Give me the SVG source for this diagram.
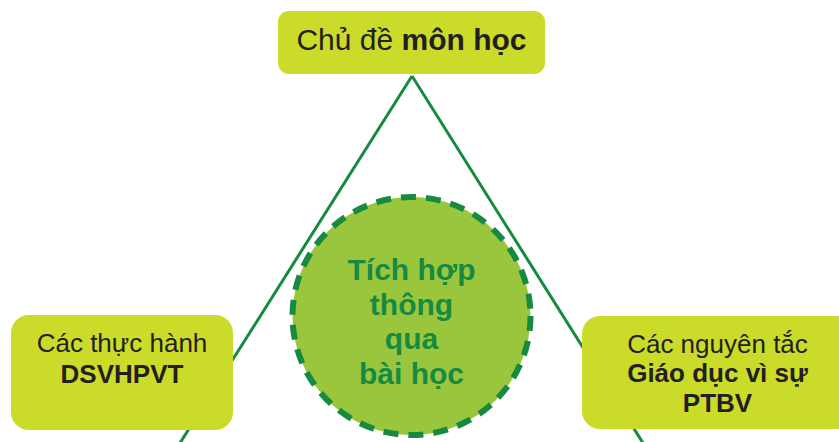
<svg xmlns="http://www.w3.org/2000/svg" width="839" height="442" viewBox="0 0 839 442">
<style>
.box{fill:#cbdb2a;}
.t{font-family:"Liberation Sans",Arial,sans-serif;fill:#231f20;text-anchor:middle;}
.b{font-weight:bold;}
.c{font-family:"Liberation Sans",Arial,sans-serif;font-weight:bold;fill:#178a41;text-anchor:middle;font-size:30px;}
.ln{stroke:#178a41;stroke-width:3;fill:none;}
</style>
<rect width="839" height="442" fill="#ffffff"/>
<g id="connectors">
<line class="ln" x1="412" y1="76" x2="180" y2="443"/>
<line class="ln" x1="412" y1="76" x2="643" y2="443"/>
</g>
<g id="top">
<rect class="box" x="278" y="11" width="267" height="63" rx="11"/>
<text class="t" x="411.5" y="50" font-size="30">Chủ đề <tspan class="b">môn học</tspan></text>
</g>
<g id="left">
<rect class="box" x="11" y="315" width="222" height="115" rx="18"/>
<text class="t" x="122" y="352" font-size="26">Các thực hành</text>
<text class="t b" x="122" y="383" font-size="26">DSVHPVT</text>
</g>
<g id="right">
<rect class="box" x="582" y="316" width="272" height="113" rx="18"/>
<text class="t" x="717.5" y="353" font-size="26">Các nguyên tắc</text>
<text class="t b" x="717.5" y="382" font-size="26">Giáo dục vì sự</text>
<text class="t b" x="717.5" y="412" font-size="26">PTBV</text>
</g>
<g id="center">
<circle cx="411.5" cy="316" r="119" fill="#99c63d" stroke="#178a41" stroke-width="6" stroke-dasharray="15 10"/>
<text class="c" x="411.5" y="280">Tích hợp</text>
<text class="c" x="411.5" y="315">thông</text>
<text class="c" x="411.5" y="349">qua</text>
<text class="c" x="411.5" y="384">bài học</text>
</g>
</svg>
